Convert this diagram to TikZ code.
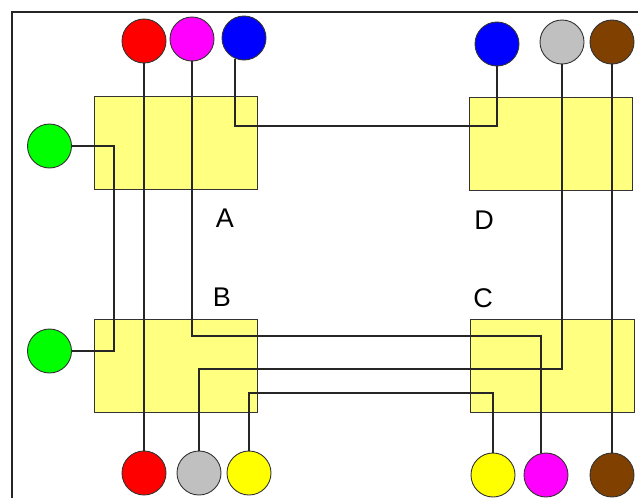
\documentclass[tikz,border=0pt]{standalone}
\usepackage{fontspec}
\setmainfont{Liberation Sans}
\usepackage{xcolor}
\usetikzlibrary{positioning}

\definecolor{chipyellow}{RGB}{255,255,128}
\definecolor{pinred}{RGB}{255,0,0}
\definecolor{pinmagenta}{RGB}{255,0,255}
\definecolor{pinblue}{RGB}{0,0,255}
\definecolor{pingreen}{RGB}{0,255,0}
\definecolor{pinyellow}{RGB}{255,255,0}
\definecolor{pingray}{RGB}{192,192,192}
\definecolor{pinbrown}{RGB}{128,64,0}

\begin{document}
\begin{tikzpicture}[
    x=1pt, y=-1pt,
    box/.style={rectangle, draw=black!80, fill=chipyellow, minimum width=163pt, minimum height=93pt, inner sep=0pt, line width=1pt},
    pin/.style={circle, draw=black!80, minimum size=44pt, inner sep=0pt, line width=0.9pt},
    wire/.style={draw=black!85, line width=1.3pt},
    lbl/.style={font=\fontsize{27}{30}\selectfont}
]
\useasboundingbox (0,0) rectangle (638,498);

% Frame
\draw[black!85, line width=1.3pt] (12,498) -- (12,12) -- (638,12);

% Chips
\node[box] (A) at (175.5,142.5) {};
\node[box] (D) at (550.5,144) {};
\node[box] (B) at (175.5,365.5) {};
\node[box, minimum width=164pt] (C) at (552,365.5) {};

\node[lbl] (labA) at (225,218) {A};
\node[lbl] (labD) at (484,220) {D};
\node[lbl] (labB) at (222,297) {B};
\node[lbl] (labC) at (483,298) {C};

% Top pins
\node[pin, fill=pinred] (rT) at (144,41) {};
\node[pin, fill=pinmagenta] (mT) at (192,39) {};
\node[pin, fill=pinblue] (bA) at (244,38) {};
\node[pin, fill=pinblue] (bD) at (497,44) {};
\node[pin, fill=pingray] (gyT) at (562,42) {};
\node[pin, fill=pinbrown] (bwT) at (612,42) {};

% Side pins
\node[pin, fill=pingreen] (gT) at (49.5,146) {};
\node[pin, fill=pingreen] (gB) at (49.5,351) {};

% Bottom pins
\node[pin, fill=pinred] (rB) at (144,473) {};
\node[pin, fill=pingray] (gyB) at (199,473) {};
\node[pin, fill=pinyellow] (yB) at (249,473) {};
\node[pin, fill=pinyellow] (yC) at (493,475) {};
\node[pin, fill=pinmagenta] (mB) at (546,475) {};
\node[pin, fill=pinbrown] (bwB) at (612,475) {};

% Wires
\draw[wire] (rT) -- (rB);
\draw[wire] (bwT) -- (bwB);
\draw[wire] (gT.east) -- ++(42,0) |- (gB.east);
\draw[wire] (bA.-114) |- (bD |- 0,126) -- (bD);
\draw[wire] (mT) |- (mB.103 |- 0,336) -- (mB.103);
\draw[wire] (gyB) |- (gyT |- 0,369) -- (gyT);
\draw[wire] (yB) |- (yC |- 0,393) -- (yC);

\end{tikzpicture}
\end{document}
